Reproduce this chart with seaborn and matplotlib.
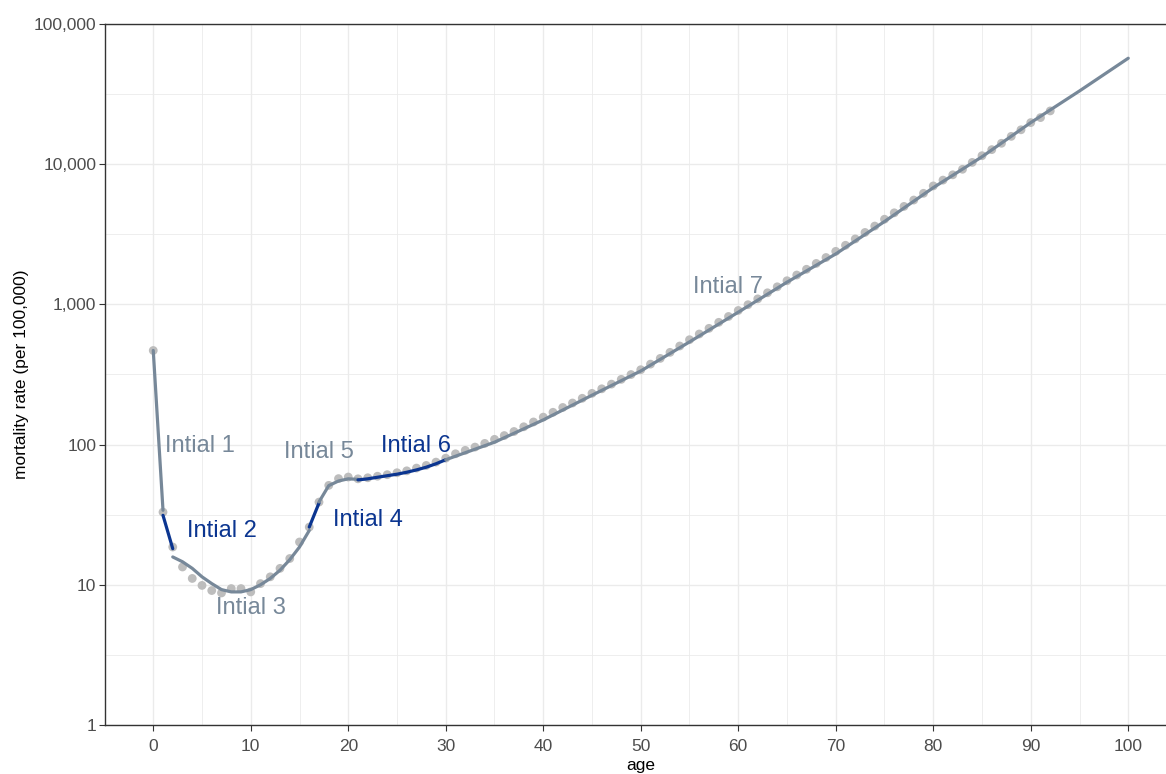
import matplotlib
matplotlib.use("Agg")
import matplotlib.pyplot as plt
import numpy as np
import pandas as pd
import seaborn as sns
from matplotlib.ticker import FixedLocator, FuncFormatter

# Observed mortality rates (per 100,000) by single year of age
obs_age = list(range(0, 93))
obs_rate = [
    469, 33, 18.6, 13.4, 11.1, 9.9, 9.1, 8.75, 9.4, 9.4,
    8.9, 10.2, 11.4, 13.1, 15.4, 20.2, 25.8, 38.9, 51.2, 57.2,
    58.7, 57, 58, 59.5, 61, 63, 65, 68, 71, 75,
    80, 86, 91, 96, 102, 109, 116, 124, 134, 145,
    157, 170, 184, 198, 214, 232, 250, 270, 292, 316,
    342, 375, 412, 455, 505, 560, 615, 675, 745, 820,
    905, 995, 1095, 1210, 1335, 1475, 1620, 1780, 1960, 2160,
    2390, 2640, 2930, 3260, 3620, 4050, 4500, 5000, 5550, 6200,
    7000, 7700, 8400, 9200, 10300, 11500, 12700, 14100, 15800, 17600,
    19800, 21500, 24000,
]

# Initial fitted curve, one piece per age band
seg1_age = [0, 1]
seg1_fit = [469, 34]
seg2_age = [1, 2]
seg2_fit = [31.3, 18.1]
seg3_age = list(range(2, 17))
seg3_fit = [15.8, 14.6, 13.1, 11.4, 10.2, 9.24, 8.9, 8.9, 9.24, 10.0, 11.1, 12.7, 15.1, 18.6, 24.4]
seg4_age = [16, 17]
seg4_fit = [25.8, 38.3]
seg5_age = list(range(17, 22))
seg5_fit = [39, 51, 55, 57, 56.5]
seg6_age = list(range(21, 31))
seg6_fit = [56, 57, 58.5, 60, 61.5, 63.5, 66, 69, 73, 78]
seg7_age = list(range(30, 101, 5))
seg7_fit = [78, 104, 150, 225, 335, 540, 880, 1440, 2290, 3900, 6800, 11300, 19800, 33300, 57000]

seg_names = ["Intial 1", "Intial 2", "Intial 3", "Intial 4", "Intial 5", "Intial 6", "Intial 7"]
label_age = [4.8, 7.0, 10.0, 22.0, 17.0, 26.9, 58.9]
label_rate = [97, 24, 6.8, 28.8, 88, 97, 1340]

y_breaks = [1, 10, 100, 1000, 10000, 100000]
x_breaks = list(range(0, 101, 10))

GREY = "#778899"
BLUE = "#0b3590"
seg_colors = [GREY, BLUE, GREY, BLUE, GREY, BLUE, GREY]

sns.set_theme(style="white")
plt.rcParams["font.family"] = ["Liberation Sans", "DejaVu Sans"]

fig = plt.figure(figsize=(11.66, 7.74), dpi=100)
ax = fig.add_axes([104.5 / 1166, 49 / 774, 1072.5 / 1166, 701 / 774])

obs = pd.DataFrame({"age": obs_age, "rate": obs_rate})
sns.scatterplot(data=obs, x="age", y="rate", color="#bdbdbd", s=40,
                edgecolor="none", linewidth=0, ax=ax, zorder=2)

segments = [
    (seg1_age, seg1_fit), (seg2_age, seg2_fit), (seg3_age, seg3_fit),
    (seg4_age, seg4_fit), (seg5_age, seg5_fit), (seg6_age, seg6_fit),
    (seg7_age, seg7_fit),
]
for (a, f), col in zip(segments, seg_colors):
    sns.lineplot(x=a, y=f, color=col, linewidth=2.3, estimator=None,
                 sort=False, ax=ax, zorder=3)

for name, xa, yr, col in zip(seg_names, label_age, label_rate, seg_colors):
    ax.text(xa, yr, name, color=col, fontsize=17, ha="center", va="center", zorder=4)

ax.set_yscale("log")
ax.set_xlim(-5, 105)
ax.set_ylim(1, 100000)

ax.xaxis.set_major_locator(FixedLocator(x_breaks))
ax.xaxis.set_minor_locator(FixedLocator([x + 5 for x in x_breaks[:-1]]))
ax.yaxis.set_major_locator(FixedLocator(y_breaks))
ax.yaxis.set_minor_locator(FixedLocator([b * np.sqrt(10) for b in y_breaks[:-1]]))
ax.yaxis.set_major_formatter(FuncFormatter(lambda v, p: f"{int(round(v)):,}"))

ax.grid(which="major", color="#ebebeb", linewidth=1.0)
ax.grid(which="minor", color="#ebebeb", linewidth=0.6)
ax.set_axisbelow(True)

for side in ["left", "bottom", "top", "right"]:
    ax.spines[side].set_color("#333333")
    ax.spines[side].set_linewidth(1.0)

ax.tick_params(which="major", direction="out", length=4, width=0.8,
               color="#333333", labelcolor="#4d4d4d", labelsize=12.5,
               left=True, bottom=True, pad=2)
ax.tick_params(axis="x", which="major", pad=6)
ax.tick_params(which="minor", length=0)

ax.set_xlabel("age", fontsize=12.5, color="black", labelpad=3)
ax.set_ylabel("mortality rate (per 100,000)", fontsize=12.5, color="black", labelpad=3)

fig.savefig("out.png", dpi=100)
